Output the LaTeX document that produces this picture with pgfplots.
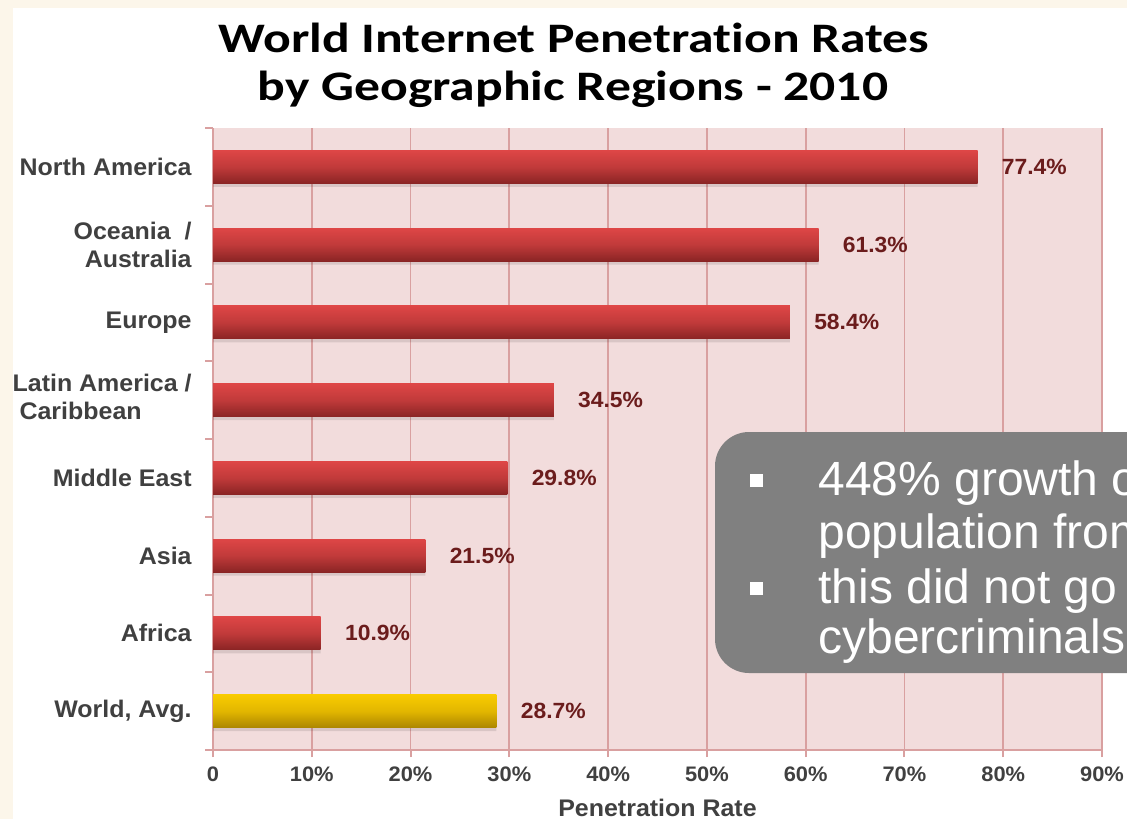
\documentclass[border=0pt]{standalone}
\usepackage{fontspec}
\setmainfont{Liberation Sans}
\newfontfamily\titlefont[FakeStretch=1.23,Ligatures=NoCommon]{Carlito Bold}
\newfontfamily\labfont[FakeStretch=1.04]{Liberation Sans Bold}
\usepackage{pgfplots}
\pgfplotsset{compat=1.18}
\definecolor{cream}{HTML}{FCF6EA}
\definecolor{plotbg}{HTML}{F2DCDC}
\definecolor{gridc}{HTML}{D9A0A0}
\definecolor{redtop}{HTML}{DE4646}
\definecolor{redbot}{HTML}{8A2424}
\definecolor{yeltop}{HTML}{F9CB00}
\definecolor{yelbot}{HTML}{AC8600}
\definecolor{lblred}{HTML}{6B1C1C}
\definecolor{lblgray}{HTML}{404040}
\definecolor{boxgray}{HTML}{808080}
\pgfplotsset{
  redbar/.style={draw=none, top color=redtop, bottom color=redbot, middle color=redtop!65!redbot,
    nodes near coords={\pgfmathprintnumber[fixed,precision=1,fixed zerofill]{\pgfplotspointmeta}\%}},
  yelbar/.style={draw=none, top color=yeltop, bottom color=yelbot, middle color=yeltop!70!yelbot,
    nodes near coords={\pgfmathprintnumber[fixed,precision=1,fixed zerofill]{\pgfplotspointmeta}\%}},
}
\begin{document}
\begin{tikzpicture}
\path[use as bounding box] (0,0) rectangle (563.5pt,-409.5pt);
\clip (0,0) rectangle (563.5pt,-409.5pt);
\begin{scope}[x=0.5pt,y=-0.5pt]
\fill[cream] (0,0) rectangle (1127,819);
\fill[white] (13,8) rectangle (1140,830);
\end{scope}
\begin{axis}[
  at={(106.5pt,-375pt)}, anchor=south west,
  scale only axis, width=444.5pt, height=311pt,
  xmin=0, xmax=90, ymin=-0.5, ymax=7.5,
  axis background/.style={fill=plotbg},
  axis lines*=left,
  axis line style={gridc, line width=1pt, -},
  xtick={0,10,...,90},
  xticklabels={0,10\%,20\%,30\%,40\%,50\%,60\%,70\%,80\%,90\%},
  xmajorgrids,
  grid style={gridc, line width=0.9pt},
  ytick={0,...,7},
  yticklabels={{World, Avg.},Africa,Asia,Middle East,{\begin{tabular}{@{}l@{}}Latin America /\\\ Caribbean\end{tabular}},Europe,{Oceania \ /\\Australia},North America},
  minor ytick={-0.5,0.5,...,7.5},
  tick align=outside,
  major tick length=3.5pt,
  minor tick length=4pt,
  tick style={gridc, line width=1pt},
  major y tick style={draw=none},
  minor y tick style={gridc, line width=1pt},
  yticklabel style={font=\labfont\fontsize{12}{14}\selectfont, text=lblgray, align=right, anchor=east, inner sep=0pt, xshift=-7pt},
  xticklabel style={font=\labfont\fontsize{10.5}{12}\selectfont, text=lblgray, anchor=base, inner sep=0pt, yshift=-12pt},
  xlabel={Penetration Rate},
  xlabel style={font=\labfont\fontsize{12}{14}\selectfont, text=lblgray, at={(axis description cs:0.5,0)}, anchor=base, inner sep=0pt, yshift=-33pt},
  /pgf/number format/assume math mode=true,
  point meta=x,
  xbar, bar width=16.5pt, bar shift=0pt,
  every node near coord/.append style={font=\labfont\fontsize{11}{13}\selectfont, text=lblred, anchor=west, inner sep=0pt, xshift=12pt},
]
% soft shadows under the bars
\addplot[draw=none, fill=black, fill opacity=0.10, bar width=15pt, bar shift=-2.5pt] coordinates {
(28.7,0) (10.9,1) (21.5,2) (29.8,3) (34.5,4) (58.4,5) (61.3,6) (77.4,7)};
\addplot[yelbar] coordinates {(28.7,0)};
\addplot[redbar] coordinates {(10.9,1)};
\addplot[redbar] coordinates {(21.5,2)};
\addplot[redbar] coordinates {(29.8,3)};
\addplot[redbar] coordinates {(34.5,4)};
\addplot[redbar] coordinates {(58.4,5)};
\addplot[redbar] coordinates {(61.3,6)};
\addplot[redbar] coordinates {(77.4,7)};
\end{axis}
\begin{scope}[x=0.5pt,y=-0.5pt]
\node[font=\titlefont\fontsize{21}{24}\selectfont, anchor=base, inner sep=0pt] at (574,52) {World Internet Penetration Rates};
\node[font=\titlefont\fontsize{21}{24}\selectfont, anchor=base, inner sep=0pt] at (573,100) {by Geographic Regions - 2010};
\fill[boxgray, rounded corners=17pt] (715,432) rectangle (1400,673);
\fill[white] (750,474) rectangle (763,487);
\fill[white] (750,582) rectangle (763,595);
\begin{scope}[every node/.style={font=\fontsize{24}{28}\selectfont, text=white, anchor=base west, inner sep=0pt}]
\node at (818,495) {448\% growth of Internet users};
\node at (818,548) {population from 2000 to 2010};
\node at (818,603) {this did not go unnoticed by};
\node at (818,653) {cybercriminals};
\end{scope}
\end{scope}
\end{tikzpicture}
\end{document}
